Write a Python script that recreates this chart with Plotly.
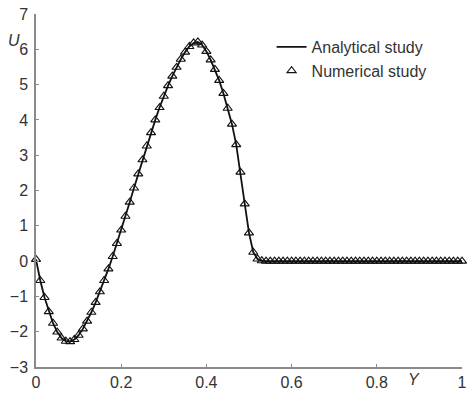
import plotly.graph_objects as go

# Data
Y_vals = [round(i * 0.01, 2) for i in range(101)]
U_left = [0.05, -0.55, -1.03, -1.43, -1.76, -2.01, -2.18, -2.27, -2.28, -2.22,
          -2.10, -1.92, -1.70, -1.45, -1.17, -0.87, -0.55, -0.22, 0.13, 0.50,
          0.88, 1.27, 1.67, 2.07, 2.47, 2.87, 3.26, 3.64, 4.00, 4.35,
          4.67, 4.97, 5.24, 5.49, 5.72, 5.92, 6.08, 6.18, 6.21, 6.12,
          5.94, 5.70, 5.43, 5.12, 4.75, 4.33, 3.88, 3.30, 2.52, 1.62,
          0.80, 0.25, 0.06]
U_flat = [0.01] + [0.0] * 47
U_vals = U_left + U_flat

x_ticks = [0, 0.2, 0.4, 0.6, 0.8, 1]
x_tick_text = ["0", "0.2", "0.4", "0.6", "0.8", "1"]
y_ticks = [-3, -2, -1, 0, 1, 2, 3, 4, 5, 6, 7]

FONT = "Liberation Sans, Arial, sans-serif"
TXT = "#333333"

fig = go.Figure()
fig.add_trace(go.Scatter(
    x=Y_vals, y=U_vals, mode="lines", name="Analytical study",
    line=dict(color="#111111", width=1.8),
))
fig.add_trace(go.Scatter(
    x=Y_vals, y=U_vals, mode="markers", name="Numerical study",
    marker=dict(symbol="triangle-up-open", size=8, color="#111111",
                line=dict(width=1.1, color="#111111")),
    cliponaxis=False,
))

axis_common = dict(
    showgrid=False, zeroline=False, showline=True, linecolor="#8a8a8a",
    linewidth=1.5, ticks="inside", ticklen=3, tickcolor="#8a8a8a",
    tickfont=dict(family=FONT, size=16, color=TXT), mirror=False,
    ticklabeloverflow="allow",
)

fig.update_layout(
    width=469, height=394,
    margin=dict(l=36, r=2, t=14, b=27),
    paper_bgcolor="white", plot_bgcolor="white",
    font=dict(family=FONT, size=15, color=TXT),
    xaxis=dict(range=[0, 1], tickvals=x_ticks, ticktext=x_tick_text, **axis_common),
    yaxis=dict(range=[-3, 7], tickvals=y_ticks, ticklabelstandoff=3, **axis_common),
    showlegend=True,
    legend=dict(x=0.553, y=0.955, xanchor="left", yanchor="top",
                bgcolor="rgba(0,0,0,0)", font=dict(family=FONT, size=16, color=TXT),
                tracegroupgap=0, itemwidth=30),
    annotations=[
        dict(text="<i>U</i>", xref="paper", yref="paper", x=-0.07, y=0.955,
             showarrow=False, font=dict(family=FONT, size=16, color=TXT)),
        dict(text="<i>Y</i>", xref="paper", yref="paper", x=0.907, y=-0.065,
             showarrow=False, font=dict(family=FONT, size=16, color=TXT)),
    ],
)

fig.write_html("out.html")
